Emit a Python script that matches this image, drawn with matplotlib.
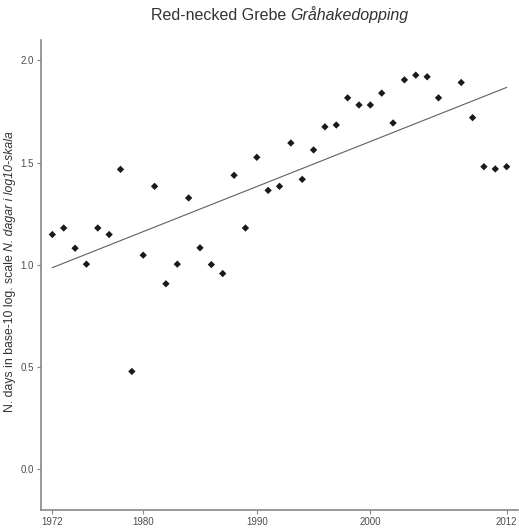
import numpy as np
import matplotlib
matplotlib.use("Agg")
import matplotlib.pyplot as plt

plt.rcParams["font.family"] = ["Liberation Sans", "DejaVu Sans"]

# ── 数据 ──────────────────────────────────────────────────────────────
years = [1972, 1973, 1974, 1975, 1976, 1977, 1978, 1979, 1980, 1981,
         1982, 1983, 1984, 1985, 1986, 1987, 1988, 1989, 1990, 1991,
         1992, 1993, 1994, 1995, 1996, 1997, 1998, 1999, 2000, 2001,
         2002, 2003, 2004, 2005, 2006, 2008, 2009, 2010, 2011, 2012]
log_days = [1.148, 1.180, 1.081, 1.003, 1.180, 1.148, 1.467, 0.478, 1.047, 1.384,
            0.907, 1.003, 1.327, 1.083, 1.001, 0.957, 1.438, 1.180, 1.526, 1.364,
            1.384, 1.596, 1.418, 1.562, 1.675, 1.684, 1.817, 1.782, 1.782, 1.840,
            1.694, 1.905, 1.928, 1.920, 1.817, 1.892, 1.720, 1.480, 1.469, 1.480]
x_ticks = [1972, 1980, 1990, 2000, 2012]
y_ticks = [0.0, 0.5, 1.0, 1.5, 2.0]

title_plain = "Red-necked Grebe "
title_italic = "Gråhakedopping"
ylab_plain = "N. days in base-10 log. scale "
ylab_italic = "N. dagar i log10-skala"

# ── 绘图 ──────────────────────────────────────────────────────────────
fig = plt.figure(figsize=(5.19, 5.29), dpi=100)
ax = fig.add_axes([41 / 519, 19 / 529, 477 / 519, 470 / 529])

x = np.array(years, dtype=float)
y = np.array(log_days)
slope, icpt = np.polyfit(x, y, 1)
xl = np.array([x.min(), x.max()])
ax.plot(xl, icpt + slope * xl, color="#606060", linewidth=0.8, zorder=2)
ax.scatter(x, y, marker="D", s=14, color="#1a1a1a", edgecolors="none", zorder=3)

ax.set_xlim(1971, 2013)
ax.set_ylim(-0.2, 2.1)
ax.set_xticks(x_ticks)
ax.set_yticks(y_ticks)
ax.set_yticklabels([f"{v:.1f}" for v in y_ticks])
ax.tick_params(labelsize=7, colors="#888888", labelcolor="#4d4d4d",
               length=3, width=0.8, pad=2)
for side in ("top", "right"):
    ax.spines[side].set_visible(False)
for side in ("left", "bottom"):
    ax.spines[side].set_color("#888888")
    ax.spines[side].set_linewidth(1.2)

# 标题和纵轴标签：正体 + 斜体拼接
fig.canvas.draw()
r = fig.canvas.get_renderer()
t1 = fig.text(0, 0, title_plain, fontsize=11.5, color="#333333")
t2 = fig.text(0, 0, title_italic, fontsize=11.5, color="#333333", style="italic")
w1 = t1.get_window_extent(r).width
w2 = t2.get_window_extent(r).width
cx = (41 + 518) / 2
x0 = cx - (w1 + w2) / 2
ty = 529 - 20
t1.set_position((x0 / 519, ty / 529))
t2.set_position(((x0 + w1) / 519, ty / 529))

l1 = fig.text(0, 0, ylab_plain, fontsize=8.8, color="#333333", rotation=90)
l2 = fig.text(0, 0, ylab_italic, fontsize=8.8, color="#333333", rotation=90,
              style="italic")
h1 = l1.get_window_extent(r).height
h2 = l2.get_window_extent(r).height
cy = 529 - 269
y0 = cy - (h1 + h2) / 2
l1.set_position((4 / 519, y0 / 529))
l2.set_position((4 / 519, (y0 + h1) / 529))

plt.savefig("out.png", dpi=100)
